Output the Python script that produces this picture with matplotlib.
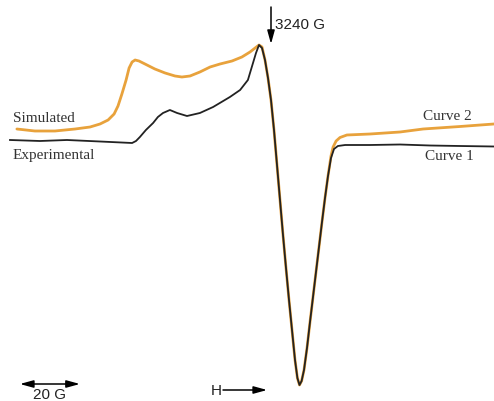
import matplotlib
matplotlib.use('Agg')
import matplotlib.pyplot as plt

# EPR spectra, field in G, signal in arbitrary units
field_exp = [3153.0, 3163.0, 3172.0, 3183.0, 3193.7, 3195.0, 3196.3, 3198.3, 3200.7,
             3202.3, 3204.0, 3206.3, 3208.7, 3212.0, 3216.3, 3220.7, 3226.3, 3229.7,
             3232.3, 3234.0, 3235.0, 3236.0, 3237.0, 3238.0, 3239.0, 3240.0, 3241.0,
             3242.0, 3243.0, 3244.0, 3245.0, 3246.0, 3247.0, 3248.0, 3248.8, 3249.5,
             3250.2, 3251.0, 3252.0, 3253.0, 3254.0, 3255.0, 3256.0, 3257.0, 3258.0,
             3259.0, 3260.0, 3261.0, 3262.3, 3264.7, 3273.0, 3283.0, 3293.0, 3303.0,
             3314.3]
signal_exp = [3, 2, 3, 1.5, 0, 2, 6, 13, 20,
              26, 30, 33, 30, 27, 30, 36, 46, 53,
              63, 80, 90, 98, 95, 83, 65, 43, 13,
              -22, -57, -92, -125, -157, -187, -217, -235, -242,
              -238, -227, -205, -179, -154, -129, -104, -79, -55,
              -33, -15, -6, -3, -2, -2, -1.5, -2.5, -3,
              -3.5]

field_sim = [3155.3, 3161.3, 3168.0, 3174.7, 3179.7, 3183.0, 3185.7, 3187.7, 3189.0,
             3190.3, 3191.7, 3192.7, 3193.7, 3194.7, 3196.0, 3198.0, 3201.3, 3204.7,
             3208.0, 3210.3, 3213.0, 3216.3, 3219.7, 3223.0, 3227.0, 3230.3, 3233.0,
             3234.7, 3236.0, 3237.0, 3238.0, 3239.0, 3240.0, 3241.0, 3242.0, 3243.0,
             3244.0, 3245.0, 3246.0, 3247.0, 3248.0, 3248.8, 3249.5, 3250.2, 3251.0,
             3252.0, 3253.0, 3254.0, 3255.0, 3256.0, 3257.0, 3258.0, 3259.0, 3260.0,
             3260.7, 3261.7, 3263.0, 3265.3, 3273.0, 3283.0, 3290.7, 3303.0, 3314.3]
signal_sim = [14, 12, 12, 14, 16, 19, 23, 29, 37,
              49, 63, 75, 81, 83, 82, 79, 74, 70,
              67, 66, 67, 71, 76, 79, 82, 86, 91,
              95, 98, 96, 83, 65, 43, 13, -22, -57,
              -92, -125, -157, -187, -217, -235, -242, -238, -227,
              -205, -179, -154, -129, -104, -79, -55, -33, -13,
              -4, 2, 5.5, 8, 9, 11, 14, 16.5, 19]

center_field = 3240
scale_start, scale_len = 3156.3, 20

fig = plt.figure(figsize=(4.94, 4.01), dpi=100)
ax = fig.add_axes([0, 0, 1, 1])
ax.plot(field_sim, signal_sim, color='#e8a23c', lw=2.0, solid_capstyle='round')
ax.plot(field_exp, signal_exp, color='#222222', lw=1.3)
ax.set_xlim(3149.67, 3314.33)
ax.set_ylim(-258, 143)
ax.axis('off')

serif = dict(family='Liberation Serif', fontsize=11, color='#333333')
sans = dict(family='Liberation Sans', fontsize=11, color='#222222')
ax.text(3154.0, 24, 'Simulated', va='center', ha='left', **serif)
ax.text(3154.0, -12, 'Experimental', va='center', ha='left', **serif)
ax.text(3290.7, 26, 'Curve 2', va='center', ha='left', **serif)
ax.text(3291.3, -13, 'Curve 1', va='center', ha='left', **serif)

head = '-|>,head_length=0.8,head_width=0.22'
ax.annotate('', xy=(center_field, 99), xytext=(center_field, 136),
            arrowprops=dict(arrowstyle=head, color='black', lw=1.1,
                            mutation_scale=10, shrinkA=0, shrinkB=0))
ax.text(center_field + 1.4, 118, '3240 G', va='center', ha='left', **sans)

ax.annotate('', xy=(scale_start, -241), xytext=(scale_start + scale_len, -241),
            arrowprops=dict(arrowstyle='<|-|>,head_length=0.8,head_width=0.22',
                            color='black', lw=1.1, mutation_scale=10,
                            shrinkA=0, shrinkB=0))
ax.text(scale_start + scale_len / 2, -252, '20 G', va='center', ha='center', **sans)

ax.text(3221.7, -248, 'H', va='center', ha='center', **sans)
ax.annotate('', xy=(3238.7, -247), xytext=(3224.0, -247),
            arrowprops=dict(arrowstyle=head, color='black', lw=1.1,
                            mutation_scale=10, shrinkA=0, shrinkB=0))

fig.savefig('out.png', dpi=100)
